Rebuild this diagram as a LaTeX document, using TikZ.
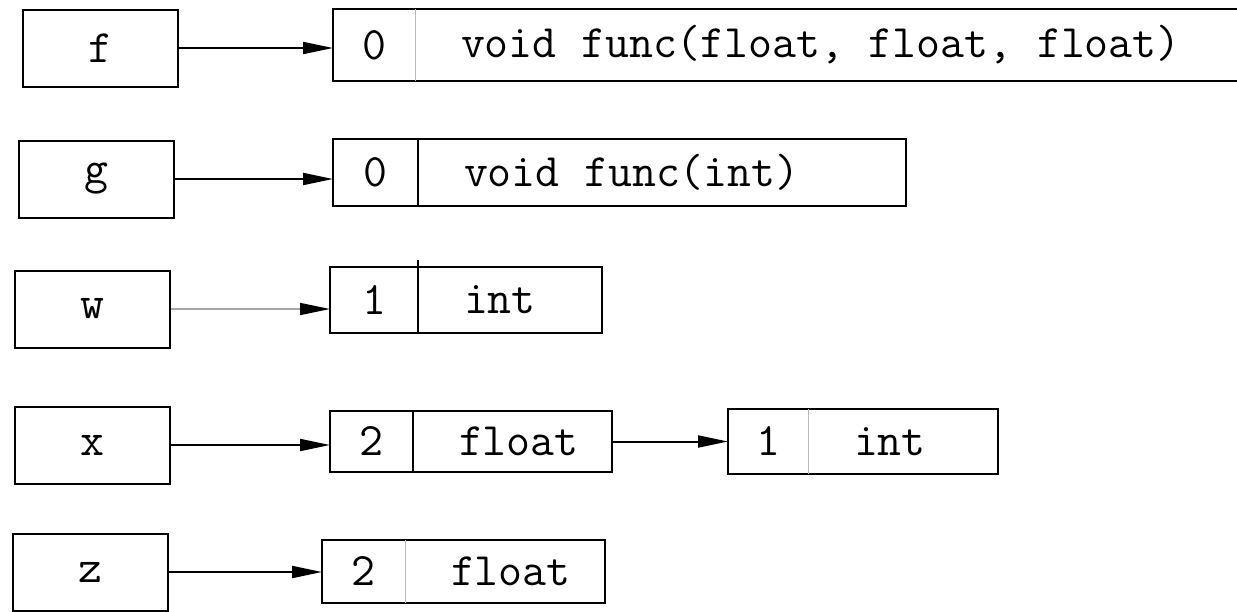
\documentclass[tikz,border=0pt]{standalone}
\usepackage{fontspec}
\usetikzlibrary{arrows.meta,positioning}
\newcommand{\codefont}{\ttfamily\fontsize{46.5}{46.5}\selectfont}

\begin{document}
\begin{tikzpicture}[x=1pt, y=-1pt, line width=2pt,
    var node/.style={draw, minimum width=155pt, minimum height=77pt, inner sep=0pt, font=\codefont},
    cnt node/.style 2 args={anchor=west, minimum width=#1, minimum height=#2, inner sep=0pt, font=\codefont},
    type node/.style 2 args={anchor=west, text width=#1, minimum height=#2, inner sep=0pt, align=left,
                             font=\codefont, execute at begin node={\spaceskip=0.525em\xspaceskip=0.525em\hspace*{45pt}}},
    rec/.style={draw},
    black div/.style={draw},
    gray div/.style={draw=gray!55, line width=1pt},
    ptr/.style={-{Triangle[length=30pt,width=12pt,color=black]}}]

  \useasboundingbox (0,0) rectangle (1237,611);

  % variables
  \node[var node] (f) at (100,48) {f};
  \node[var node] (g) at (96,179) {g};
  \node[var node] (w) at (92,309) {w};
  \node[var node] (x) at (92,445) {x};
  \node[var node] (z) at (90,572) {z};

  % type records
  \node[cnt node={80pt}{70pt}] (f0) at (333,45) {0};
  \node[type node={822pt}{70pt}, right=0pt of f0] (f1) {void func(float, float, float)};
  \node[cnt node={83pt}{65pt}] (g0) at (333,172.5) {0};
  \node[type node={486pt}{65pt}, right=0pt of g0] (g1) {void func(int)};
  \node[cnt node={86pt}{64pt}] (w0) at (330,300) {1};
  \node[type node={182pt}{64pt}, right=0pt of w0] (w1) {int};
  \node[cnt node={81pt}{59pt}] (x0) at (330,441.5) {2};
  \node[type node={197pt}{59pt}, right=0pt of x0] (x1) {float};
  \node[cnt node={78pt}{63pt}] (n0) at (728,441.5) {1};
  \node[type node={188pt}{63pt}, right=0pt of n0] (n1) {int};
  \node[cnt node={81pt}{61pt}] (z0) at (322,571.5) {2};
  \node[type node={198pt}{61pt}, right=0pt of z0] (z1) {float};

  \foreach \r in {f,g,w,x,n,z}
    \draw[rec] (\r0.north west) rectangle (\r1.south east);

  \draw[gray div] (f0.north east) -- (f0.south east);
  \draw[black div] (g0.north east) -- (g0.south east);
  \draw[black div, shorten <=-7pt] (w0.north east) -- (w0.south east);
  \draw[black div] (x0.north east) -- (x0.south east);
  \draw[gray div] (n0.north east) -- (n0.south east);
  \draw[gray div] (z0.north east) -- (z0.south east);

  % pointers
  \draw[ptr] (f.east) -- (f.east -| f0.west);
  \draw[ptr] (g.east) -- (g.east -| g0.west);
  \draw[ptr, draw=gray!70, line width=1.5pt] (w.east) -- (w.east -| w0.west);
  \draw[ptr] (x.east) -- (x.east -| x0.west);
  \draw[ptr] (x1.east) -- (n0.west);
  \draw[ptr] (z.east) -- (z.east -| z0.west);

\end{tikzpicture}
\end{document}
